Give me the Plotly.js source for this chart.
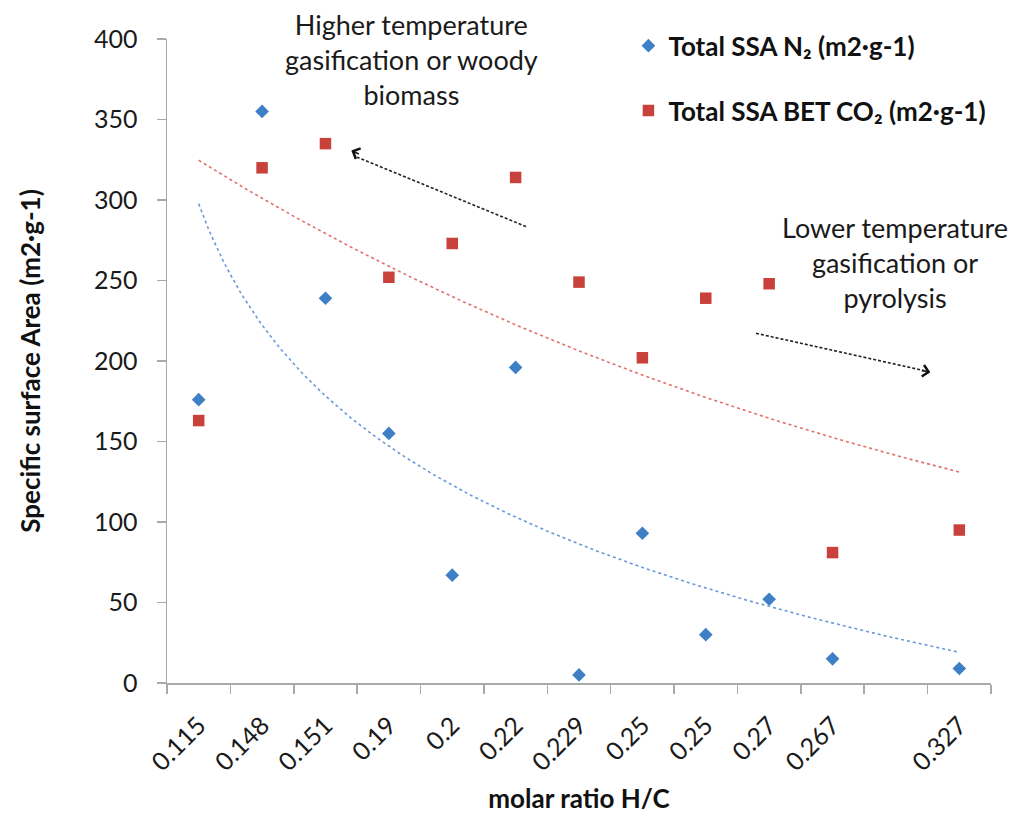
<!DOCTYPE html>
<html>
<head>
<meta charset="utf-8">
<script src="https://cdn.plot.ly/plotly-3.0.1.min.js"></script>
<style>
  html, body { margin: 0; padding: 0; background: #ffffff; }
  #chart { width: 1024px; height: 825px; }
</style>
</head>
<body>
<div id="chart"></div>
<script>
// ---- data ----
const categories = ['0.115', '0.148', '0.151', '0.19', '0.2', '0.22', '0.229', '0.25', '0.25', '0.27', '0.267', '', '0.327'];
const ssaN2  = [176, 355, 239, 155, 67, 196, 5, 93, 30, 52, 15, null, 9];
const ssaCO2 = [163, 320, 335, 252, 273, 314, 249, 202, 239, 248, 81, null, 95];
const nameN2  = 'Total SSA N₂ (m2·g-1)';
const nameCO2 = 'Total SSA BET CO₂ (m2·g-1)';
const xTitle = 'molar ratio H/C';
const yTitle = 'Specific surface Area (m2·g-1)';
const noteHigh = 'Higher temperature<br>gasification or woody<br>biomass';
const noteLow  = 'Lower temperature<br>gasification or<br>pyrolysis';

// category positions (1..n) and category boundaries (for tick marks)
const xPos = categories.map((_, i) => i + 1);
const xBounds = [0].concat(xPos).map(v => v + 0.5);

// ---- Excel-style trendlines fitted to the data ----
function pairs(ys) {
  const p = [];
  ys.forEach((y, i) => { if (y !== null) p.push([xPos[i], y]); });
  return p;
}
function linReg(pts) {
  const n = pts.length;
  const mx = pts.reduce((s, p) => s + p[0], 0) / n;
  const my = pts.reduce((s, p) => s + p[1], 0) / n;
  let sxy = 0, sxx = 0;
  pts.forEach(p => { sxy += (p[0] - mx) * (p[1] - my); sxx += (p[0] - mx) * (p[0] - mx); });
  const b = sxy / sxx;
  return { a: my - b * mx, b: b };
}
// logarithmic: y = a + b ln x
function logFit(ys) {
  const pts = pairs(ys);
  const r = linReg(pts.map(p => [Math.log(p[0]), p[1]]));
  return x => r.a + r.b * Math.log(x);
}
// exponential: y = A e^(Bx)
function expFit(ys) {
  const pts = pairs(ys);
  const r = linReg(pts.map(p => [p[0], Math.log(p[1])]));
  return x => Math.exp(r.a) * Math.exp(r.b * x);
}
const xFirst = xPos[0], xLast = xPos[xPos.length - 1];
const trendX = [];
for (let k = 0; k <= 240; k++) trendX.push(xFirst + (xLast - xFirst) * k / 240);
const fN2 = logFit(ssaN2);
const fCO2 = expFit(ssaCO2);

const blue = '#3f7fc6';
const red = '#c8413b';
const FONT = 'Lato, "Open Sans", sans-serif';
const axisGray = '#a9a9a9';

const traces = [
  {
    type: 'scatter', mode: 'lines', x: trendX, y: trendX.map(fN2),
    xaxis: 'x2', yaxis: 'y', showlegend: false, hoverinfo: 'skip',
    line: { color: '#6a9ad6', width: 1.6, dash: 'dot' }
  },
  {
    type: 'scatter', mode: 'lines', x: trendX, y: trendX.map(fCO2),
    xaxis: 'x2', yaxis: 'y', showlegend: false, hoverinfo: 'skip',
    line: { color: '#e0716b', width: 1.6, dash: 'dot' }
  },
  {
    type: 'scatter', mode: 'markers', name: nameN2, x: xPos, y: ssaN2,
    legendgroup: 'n2',
    marker: { symbol: 'diamond', size: 10.5, color: blue, line: { width: 0 } }
  },
  {
    type: 'scatter', mode: 'markers', name: nameCO2, x: xPos, y: ssaCO2,
    legendgroup: 'co2',
    marker: { symbol: 'square', size: 11.5, color: red, line: { width: 0 } }
  }
];

const layout = {
  width: 1024, height: 825,
  margin: { l: 167, r: 33, t: 39, b: 142 },
  paper_bgcolor: '#ffffff', plot_bgcolor: '#ffffff',
  font: { family: FONT, color: '#1a1a1a', size: 24 },
  showlegend: true,
  legend: {
    x: 0.56, y: 1.026, xanchor: 'left', yanchor: 'top',
    font: { family: FONT, size: 26, color: '#111111', weight: 'bold' },
    traceorder: 'grouped', tracegroupgap: 28,
    bgcolor: 'rgba(0,0,0,0)'
  },
  xaxis: {
    range: [0.5, xPos.length + 0.5],
    tickmode: 'array', tickvals: xBounds,
    showticklabels: false,
    ticks: 'outside', ticklen: 9, tickwidth: 1.5, tickcolor: axisGray,
    showline: true, linecolor: axisGray, linewidth: 1.5,
    showgrid: false, zeroline: false, fixedrange: true
  },
  xaxis2: {
    overlaying: 'x', anchor: 'y', side: 'bottom',
    range: [0.5, xPos.length + 0.5],
    tickmode: 'array', tickvals: xPos, ticktext: categories,
    tickangle: -45, ticks: '', ticklabelstandoff: 22,
    tickfont: { family: FONT, size: 25, color: '#1a1a1a' },
    showline: false, showgrid: false, zeroline: false,
    title: { text: xTitle, standoff: 14, font: { family: FONT, size: 26, color: '#111111', weight: 'bold' } }
  },
  yaxis: {
    range: [0, 400], tickmode: 'linear', tick0: 0, dtick: 50,
    ticks: 'outside', ticklen: 9, tickwidth: 1.5, tickcolor: axisGray,
    ticklabelstandoff: 14,
    tickfont: { family: FONT, size: 25, color: '#1a1a1a' },
    showline: true, linecolor: axisGray, linewidth: 1.5,
    showgrid: false, zeroline: false,
    title: { text: yTitle, standoff: 46, font: { family: FONT, size: 26, color: '#111111', weight: 'bold' } }
  },
  shapes: [
    { type: 'line', xref: 'x', yref: 'y', x0: 6.164, y0: 283.5, x1: 3.50, y1: 326.6,
      line: { color: '#222222', width: 1.6, dash: '3px,2px' } },
    { type: 'line', xref: 'x', yref: 'y', x0: 9.793, y0: 217.2, x1: 12.45, y1: 194.0,
      line: { color: '#222222', width: 1.6, dash: '3px,2px' } }
  ],
  annotations: [
    { xref: 'x', yref: 'y', x: 4.36, y: 387, text: noteHigh, showarrow: false,
      font: { family: FONT, size: 27, color: '#1a1a1a' }, align: 'center' },
    { xref: 'x', yref: 'y', x: 11.99, y: 261, text: noteLow, showarrow: false,
      font: { family: FONT, size: 27, color: '#1a1a1a' }, align: 'center' },
    { xref: 'x', yref: 'y', x: 3.408, y: 330.7, text: '', showarrow: true,
      ax: 9, ay: 4, arrowhead: 4, arrowsize: 1.4, arrowwidth: 1.6, arrowcolor: '#111111', standoff: 0 },
    { xref: 'x', yref: 'y', x: 12.543, y: 193.0, text: '', showarrow: true,
      ax: -10, ay: -2, arrowhead: 4, arrowsize: 1.4, arrowwidth: 1.6, arrowcolor: '#111111', standoff: 0 }
  ]
};

Plotly.newPlot('chart', traces, layout, { displayModeBar: false, staticPlot: true });
</script>
</body>
</html>
